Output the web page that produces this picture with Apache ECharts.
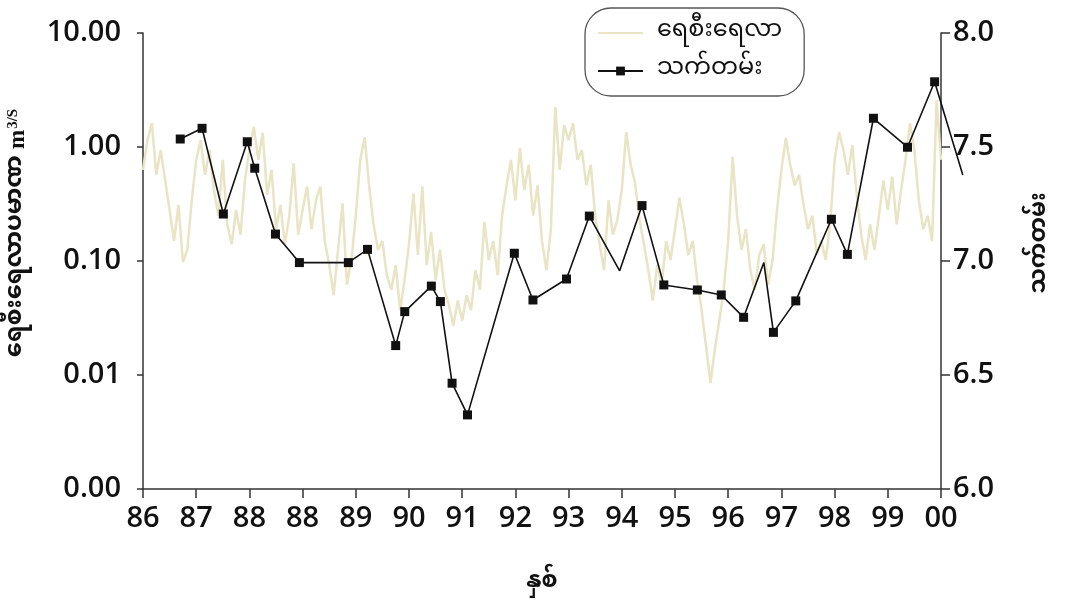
<!DOCTYPE html>
<html>
<head>
<meta charset="utf-8">
<title>ရေစီးရေလာ / သက်တမ်း</title>
<script src="https://cdn.jsdelivr.net/npm/echarts@6/dist/echarts.min.js"></script>
<style>
  html, body { margin: 0; padding: 0; background: #fff; }
  #chart { width: 1067px; height: 604px; }
</style>
</head>
<body>
<div id="chart"></div>
<script>
// x axis: one tick per year, labels as printed in the source
var xTickLabels = ['86', '87', '88', '88', '89', '90', '91', '92', '93', '94', '95', '96', '97', '98', '99', '00'];
var leftTicks = [0.001, 0.01, 0.1, 1, 10];

// monthly flow (m3/s), 12 values per tick
var flowValues = [
  0.63, 1.15, 1.62, 0.57, 0.94, 0.51, 0.28, 0.15, 0.31, 0.098, 0.125, 0.34,
  0.77, 1.15, 0.57, 0.94, 0.42, 0.25, 0.77, 0.21, 0.14, 0.28, 0.17, 0.51,
  0.94, 1.5, 0.77, 1.33, 0.38, 0.63, 0.19, 0.31, 0.14, 0.25, 0.72, 0.17,
  0.28, 0.45, 0.19, 0.34, 0.45, 0.15, 0.092, 0.05, 0.125, 0.32, 0.062, 0.102,
  0.25, 0.77, 1.22, 0.46, 0.21, 0.125, 0.15, 0.075, 0.056, 0.092, 0.037, 0.068,
  0.14, 0.39, 0.113, 0.45, 0.092, 0.18, 0.068, 0.125, 0.056, 0.041, 0.027, 0.045,
  0.03, 0.05, 0.037, 0.083, 0.056, 0.22, 0.102, 0.15, 0.075, 0.25, 0.46, 0.77,
  0.34, 0.98, 0.42, 0.7, 0.25, 0.46, 0.15, 0.083, 0.19, 2.24, 0.63, 1.56,
  1.15, 1.62, 0.77, 0.94, 0.46, 0.7, 0.25, 0.14, 0.083, 0.34, 0.17, 0.23,
  0.42, 1.35, 0.7, 0.48, 0.23, 0.14, 0.083, 0.045, 0.092, 0.062, 0.15, 0.102,
  0.19, 0.36, 0.21, 0.113, 0.15, 0.068, 0.037, 0.018, 0.0085, 0.017, 0.03, 0.056,
  0.15, 0.82, 0.25, 0.125, 0.19, 0.083, 0.056, 0.113, 0.14, 0.062, 0.102, 0.28,
  0.63, 1.2, 0.7, 0.46, 0.57, 0.31, 0.19, 0.25, 0.113, 0.15, 0.102, 0.21,
  0.77, 1.35, 0.94, 0.57, 1.04, 0.38, 0.17, 0.102, 0.21, 0.125, 0.25, 0.51,
  0.28, 0.55, 0.21, 0.42, 0.77, 1.62, 0.94, 0.34, 0.19, 0.25, 0.15, 2.58, 0.77
];

// second series (right axis): sample times in tick units and values
var phTimes = [0.70, 1.11, 1.51, 1.96, 2.10, 2.49, 2.94, 3.86, 4.22, 4.75, 4.92, 5.42, 5.59, 5.81, 6.10, 6.98, 7.33,
  7.96, 8.39, 8.96, 9.38, 9.79, 10.42, 10.87, 11.29, 11.67, 11.85, 12.27, 12.94, 13.24, 13.73, 14.37, 14.88, 15.41];
var phValues = [7.535, 7.582, 7.206, 7.523, 7.407, 7.118, 6.993, 6.993, 7.051, 6.629, 6.778, 6.890, 6.822, 6.464, 6.325, 7.034, 6.829,
  6.921, 7.197, 6.957, 7.243, 6.895, 6.873, 6.851, 6.753, 6.993, 6.687, 6.825, 7.183, 7.029, 7.626, 7.499, 7.786, 7.377];
// points drawn without a square marker
var phNoMarker = [19, 25, 33];

var seriesNames = ['ရေစီးရေလာ', 'သက်တမ်း'];

var FONT = '"Open Sans", "Noto Sans", sans-serif';
var MY_FONT = '"Noto Sans Myanmar", "Padauk", "Myanmar Text", "Noto Sans", sans-serif';
var SERIF = '"Liberation Serif", "DejaVu Serif", serif';

var chart = echarts.init(document.getElementById('chart'));

var flowData = flowValues.map(function (v, i) {
  return [i / 12, v];
});
var phData = phValues.map(function (v, i) {
  var item = { value: [phTimes[i], v] };
  if (phNoMarker.indexOf(i) > -1) {
    item.symbol = 'none';
  }
  return item;
});

var axisLine = { show: true, lineStyle: { color: '#333', width: 1.5 } };
var tickLabel = { fontFamily: FONT, fontSize: 29, fontWeight: 600, color: '#111' };

// grid 1 is the same plot, one year wider, so the last segment of the
// black line can run past the right axis like in the original
var option = {
  animation: false,
  backgroundColor: '#fff',
  grid: [{
    left: 143, right: 126, top: 33, bottom: 115,
    containLabel: false, outerBoundsMode: 'none'
  }, {
    left: 143, right: 72.8, top: 33, bottom: 115,
    containLabel: false, outerBoundsMode: 'none'
  }],
  legend: {
    orient: 'vertical',
    left: 585,
    top: 8,
    padding: [13, 22, 13, 12],
    itemGap: 14,
    itemWidth: 45,
    itemHeight: 11,
    borderColor: '#555',
    borderWidth: 1.3,
    borderRadius: 26,
    backgroundColor: '#fff',
    textStyle: { fontFamily: MY_FONT, fontSize: 24, color: '#111', padding: [0, 0, 0, 9] },
    data: [
      { name: seriesNames[0], itemStyle: { opacity: 0 } },
      { name: seriesNames[1] }
    ]
  },
  xAxis: [{
    type: 'value',
    gridIndex: 0,
    min: 0,
    max: 15,
    interval: 1,
    name: 'နှစ်',
    nameLocation: 'middle',
    nameGap: 84,
    nameTextStyle: { fontFamily: MY_FONT, fontSize: 23, fontWeight: 'bold', color: '#111' },
    axisLine: axisLine,
    axisTick: { show: true, length: 9, lineStyle: { color: '#333', width: 1.5 } },
    splitLine: { show: false },
    axisLabel: Object.assign({
      margin: 15,
      formatter: function (val) {
        return xTickLabels[Math.round(val)];
      }
    }, tickLabel)
  }, {
    type: 'value',
    gridIndex: 1,
    min: 0,
    max: 16,
    show: false
  }],
  yAxis: [{
    type: 'log',
    gridIndex: 0,
    logBase: 10,
    min: leftTicks[0],
    max: leftTicks[leftTicks.length - 1],
    name: 'ရေစီးရေလာပမာဏ {u|m}{s|3/S}',
    nameLocation: 'middle',
    nameRotate: 90,
    nameGap: 112,
    nameTextStyle: {
      fontFamily: MY_FONT, fontSize: 24, fontWeight: 'bold', color: '#111',
      padding: [0, 0, 0, 56],
      rich: {
        u: { fontFamily: SERIF, fontSize: 23, fontWeight: 'bold', color: '#111' },
        s: { fontFamily: SERIF, fontSize: 15, fontWeight: 'bold', color: '#111', padding: [0, 0, 10, 1] }
      }
    },
    axisLine: axisLine,
    axisTick: { show: true, length: 6, lineStyle: { color: '#333', width: 1.5 } },
    splitLine: { show: false },
    axisLabel: Object.assign({
      margin: 22,
      formatter: function (val) {
        return val.toFixed(2);
      }
    }, tickLabel)
  }, {
    type: 'value',
    gridIndex: 0,
    min: 6,
    max: 8,
    interval: 0.5,
    position: 'right',
    name: 'သက်တမ်း',
    nameLocation: 'middle',
    nameRotate: 90,
    nameGap: 90,
    nameTextStyle: { fontFamily: MY_FONT, fontSize: 23, fontWeight: 'bold', color: '#111', padding: [0, 0, 0, 36] },
    axisLine: axisLine,
    axisTick: { show: true, length: 9, lineStyle: { color: '#333', width: 1.5 } },
    splitLine: { show: false },
    axisLabel: Object.assign({
      margin: 12,
      formatter: function (val) {
        return val.toFixed(1);
      }
    }, tickLabel)
  }, {
    type: 'value',
    gridIndex: 1,
    min: 6,
    max: 8,
    show: false
  }],
  series: [{
    name: seriesNames[0],
    type: 'line',
    xAxisIndex: 0,
    yAxisIndex: 0,
    data: flowData,
    symbol: 'none',
    lineStyle: { color: '#e8e4c4', width: 2.5 },
    itemStyle: { color: '#e8e4c4' },
    z: 1
  }, {
    name: seriesNames[1],
    type: 'line',
    xAxisIndex: 1,
    yAxisIndex: 2,
    data: phData,
    symbol: 'rect',
    symbolSize: 9,
    lineStyle: { color: '#111', width: 1.6 },
    itemStyle: { color: '#111' },
    z: 3
  }]
};

chart.setOption(option);
</script>
</body>
</html>
